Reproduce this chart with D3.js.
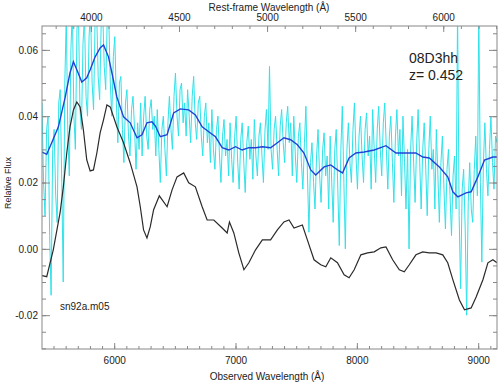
<!DOCTYPE html>
<html><head><meta charset="utf-8">
<script src="https://cdn.jsdelivr.net/npm/d3@7"></script>
<style>body{margin:0;background:#fff} text{font-family:"Liberation Sans",Arial,Helvetica,sans-serif;fill:#222}</style>
</head><body><svg id="c" width="500" height="382"></svg>
<script>
const redshift = 0.452;
const objectName = "08D3hh";
const templateName = "sn92a.m05";
const xDomain = [5405, 9155];
const yDomain = [-0.0302, 0.0672];
const xMajorTicks = [6000, 7000, 8000, 9000];
const restMajorTicks = [4000, 4500, 5000, 5500, 6000];
const yMajorTicks = [-0.02, 0.00, 0.02, 0.04, 0.06];

// template (black)
const templateSpec = [[5405,-0.0081],[5444,-0.0084],[5498,-0.0003],[5554,0.0109],[5581,0.0187],[5609,0.0289],[5636,0.0368],[5664,0.0419],[5692,0.0443],[5719,0.0428],[5746,0.0359],[5774,0.0268],[5802,0.0235],[5829,0.0238],[5857,0.0289],[5884,0.0350],[5912,0.0389],[5940,0.0434],[5967,0.0428],[6022,0.0368],[6077,0.0320],[6132,0.0259],[6188,0.0187],[6215,0.0127],[6242,0.0057],[6270,0.0033],[6297,0.0066],[6325,0.0118],[6372,0.0160],[6436,0.0127],[6477,0.0178],[6518,0.0217],[6573,0.0229],[6614,0.0199],[6669,0.0187],[6725,0.0127],[6766,0.0087],[6821,0.0087],[6890,0.0063],[6931,0.0048],[6950,0.0081],[6986,0.0048],[7027,-0.0012],[7069,-0.0063],[7110,-0.0042],[7165,-0.0003],[7221,0.0027],[7289,0.0027],[7345,0.0057],[7399,0.0081],[7441,0.0087],[7482,0.0063],[7551,0.0072],[7592,0.0027],[7647,-0.0033],[7702,-0.0048],[7744,-0.0054],[7785,-0.0027],[7840,-0.0042],[7895,-0.0078],[7936,-0.0087],[7978,-0.0063],[8033,-0.0018],[8088,-0.0012],[8143,-0.0009],[8198,0.0003],[8240,0.0006],[8295,-0.0033],[8350,-0.0063],[8391,-0.0069],[8432,-0.0048],[8487,-0.0018],[8543,-0.0009],[8597,-0.0012],[8653,-0.0012],[8708,-0.0018],[8749,-0.0042],[8791,-0.0093],[8845,-0.0154],[8887,-0.0184],[8942,-0.0178],[8983,-0.0145],[9039,-0.0093],[9080,-0.0042],[9121,-0.0033],[9155,-0.0042]];

// smoothed spectrum (blue)
const smoothSpec = [[5405,0.0292],[5444,0.0285],[5485,0.0320],[5540,0.0368],[5595,0.0455],[5636,0.0531],[5664,0.0564],[5692,0.0540],[5733,0.0503],[5774,0.0516],[5802,0.0540],[5843,0.0579],[5884,0.0606],[5912,0.0615],[5953,0.0579],[5981,0.0531],[6022,0.0458],[6077,0.0398],[6132,0.0380],[6188,0.0335],[6229,0.0344],[6270,0.0380],[6311,0.0383],[6339,0.0371],[6380,0.0338],[6436,0.0344],[6490,0.0410],[6545,0.0422],[6614,0.0419],[6669,0.0404],[6725,0.0368],[6779,0.0353],[6835,0.0338],[6890,0.0305],[6945,0.0298],[7000,0.0308],[7055,0.0298],[7110,0.0305],[7165,0.0305],[7221,0.0308],[7289,0.0305],[7345,0.0320],[7399,0.0335],[7454,0.0329],[7510,0.0314],[7564,0.0289],[7620,0.0238],[7661,0.0223],[7730,0.0247],[7785,0.0253],[7840,0.0238],[7882,0.0229],[7936,0.0274],[7992,0.0289],[8060,0.0292],[8143,0.0298],[8240,0.0311],[8322,0.0289],[8405,0.0289],[8487,0.0289],[8543,0.0277],[8597,0.0274],[8680,0.0247],[8749,0.0217],[8791,0.0172],[8832,0.0157],[8900,0.0169],[8942,0.0172],[8997,0.0217],[9052,0.0268],[9121,0.0277],[9155,0.0277]];

// observed spectrum (cyan)
const rawSpec = [[5405,0.044],[5418,0.020],[5430,0.010],[5443,0.036],[5455,0.040],[5468,0.004],[5480,-0.014],[5493,0.030],[5505,0.036],[5518,0.016],[5530,0.008],[5543,0.044],[5555,0.048],[5568,0.020],[5580,-0.010],[5593,0.050],[5605,0.070],[5618,0.034],[5630,0.022],[5643,0.060],[5655,0.072],[5668,0.040],[5680,0.030],[5693,0.066],[5705,0.072],[5718,0.042],[5730,0.036],[5743,0.062],[5755,0.070],[5768,0.046],[5780,0.040],[5793,0.064],[5805,0.072],[5818,0.050],[5830,0.042],[5843,0.070],[5855,0.072],[5868,0.052],[5880,0.045],[5893,0.068],[5905,0.072],[5918,0.055],[5930,0.048],[5943,0.070],[5955,0.070],[5968,0.050],[5980,0.040],[5993,0.058],[6005,0.064],[6018,0.044],[6030,0.032],[6043,0.050],[6055,0.052],[6068,0.036],[6080,0.026],[6093,0.044],[6105,0.048],[6118,0.034],[6130,0.028],[6143,0.042],[6155,0.046],[6168,0.036],[6180,0.024],[6193,0.038],[6205,0.030],[6218,0.044],[6230,0.028],[6243,0.040],[6255,0.046],[6268,0.034],[6280,0.030],[6293,0.042],[6305,0.045],[6318,0.036],[6330,0.040],[6343,0.028],[6355,0.042],[6368,0.030],[6380,0.020],[6393,0.036],[6405,0.040],[6418,0.030],[6430,0.022],[6443,0.038],[6455,0.046],[6468,0.036],[6480,0.030],[6493,0.046],[6505,0.053],[6518,0.040],[6530,0.034],[6543,0.048],[6555,0.050],[6568,0.038],[6580,0.044],[6593,0.034],[6605,0.048],[6618,0.040],[6630,0.032],[6643,0.046],[6655,0.052],[6668,0.038],[6680,0.033],[6693,0.044],[6705,0.046],[6718,0.034],[6730,0.028],[6743,0.040],[6755,0.044],[6768,0.032],[6780,0.038],[6793,0.026],[6805,0.042],[6818,0.030],[6830,0.024],[6843,0.036],[6855,0.040],[6868,0.028],[6880,0.020],[6893,0.034],[6905,0.039],[6918,0.028],[6930,0.033],[6943,0.022],[6955,0.038],[6968,0.027],[6980,0.020],[6993,0.034],[7005,0.040],[7018,0.026],[7030,0.018],[7043,0.033],[7055,0.038],[7068,0.026],[7080,0.017],[7093,0.032],[7105,0.037],[7118,0.027],[7130,0.033],[7143,0.021],[7155,0.039],[7168,0.028],[7180,0.022],[7193,0.034],[7205,0.038],[7218,0.028],[7230,0.020],[7243,0.036],[7255,0.042],[7268,0.030],[7280,0.055],[7293,0.030],[7305,0.024],[7318,0.036],[7330,0.040],[7343,0.030],[7355,0.022],[7368,0.037],[7380,0.042],[7393,0.032],[7405,0.026],[7418,0.038],[7430,0.043],[7443,0.032],[7455,0.038],[7468,0.022],[7480,0.040],[7493,0.028],[7505,0.020],[7518,0.034],[7530,0.038],[7543,0.026],[7555,0.018],[7568,0.032],[7580,0.043],[7593,0.022],[7605,0.005],[7618,0.026],[7630,0.032],[7643,0.020],[7655,0.012],[7668,0.028],[7680,0.036],[7693,0.022],[7705,0.014],[7718,0.030],[7730,0.035],[7743,0.022],[7755,0.028],[7768,0.012],[7780,0.034],[7793,0.020],[7805,0.008],[7818,0.030],[7830,0.036],[7843,0.018],[7855,0.001],[7868,0.030],[7880,0.043],[7893,0.020],[7905,0.000],[7918,0.030],[7930,0.038],[7943,0.026],[7955,0.020],[7968,0.036],[7980,0.044],[7993,0.028],[8005,0.018],[8018,0.034],[8030,0.040],[8043,0.028],[8055,0.020],[8068,0.036],[8080,0.041],[8093,0.028],[8105,0.034],[8118,0.018],[8130,0.042],[8143,0.030],[8155,0.020],[8168,0.036],[8180,0.043],[8193,0.030],[8205,0.022],[8218,0.038],[8230,0.044],[8243,0.030],[8255,0.018],[8268,0.034],[8280,0.040],[8293,0.026],[8305,0.014],[8318,0.034],[8330,0.042],[8343,0.028],[8355,0.036],[8368,0.016],[8380,0.040],[8393,0.026],[8405,0.012],[8418,0.030],[8430,0.000],[8443,0.030],[8455,0.040],[8468,0.026],[8480,0.014],[8493,0.032],[8505,0.042],[8518,0.026],[8530,0.012],[8543,0.030],[8555,0.038],[8568,0.024],[8580,0.010],[8593,0.030],[8605,0.040],[8618,0.024],[8630,0.030],[8643,0.012],[8655,0.036],[8668,0.022],[8680,0.008],[8693,0.026],[8705,0.034],[8718,0.018],[8730,0.006],[8743,0.024],[8755,0.030],[8768,0.016],[8780,0.004],[8793,0.022],[8805,0.028],[8818,0.012],[8830,0.072],[8843,0.010],[8855,-0.012],[8868,0.018],[8880,0.024],[8893,0.006],[8905,-0.020],[8918,0.014],[8930,0.026],[8943,0.012],[8955,0.008],[8968,0.024],[8980,0.034],[8993,0.016],[9005,0.072],[9018,0.020],[9030,-0.004],[9043,0.026],[9055,0.038],[9068,0.024],[9080,0.016],[9093,0.030],[9105,0.040],[9118,0.026],[9130,0.018],[9143,0.034],[9155,0.032]];

const svg = d3.select("#c");
const L = 42, R = 497, T = 26, B = 349;
const x = d3.scaleLinear().domain(xDomain).range([L, R]);
const xr = d3.scaleLinear().domain(xDomain.map(d => d / (1 + redshift))).range([L, R]);
const y = d3.scaleLinear().domain(yDomain).range([B, T]);

svg.append("defs").append("clipPath").attr("id","clip")
  .append("rect").attr("x",L).attr("y",T).attr("width",R-L).attr("height",B-T);

const line = d3.line().x(d => x(d[0])).y(d => y(d[1]));
const plot = svg.append("g").attr("clip-path","url(#clip)");
plot.append("path").datum(rawSpec).attr("d",line).attr("fill","none").attr("stroke","#2ee3ea").attr("stroke-width",1);
plot.append("path").datum(smoothSpec).attr("d",line).attr("fill","none").attr("stroke","#2242d6").attr("stroke-width",1.4);
plot.append("path").datum(templateSpec).attr("d",line).attr("fill","none").attr("stroke","#2a2a2a").attr("stroke-width",1.2);

const axisColor = "#888";
function style(g){
  g.select(".domain").remove();
  g.selectAll("line").attr("stroke",axisColor);
  g.selectAll("text").attr("font-size",10).attr("fill","#222");
}
const fmtY = d => d.toFixed(2);
// bottom
svg.append("g").attr("transform",`translate(0,${B})`).call(d3.axisBottom(x).tickValues(d3.range(5500,9160,100)).tickSize(-3).tickFormat("")).call(style);
svg.append("g").attr("transform",`translate(0,${B})`).call(d3.axisBottom(x).tickValues(xMajorTicks).tickSize(-6).tickSizeOuter(0).tickPadding(8).tickFormat(d3.format("d"))).call(style);
// top
svg.append("g").attr("transform",`translate(0,${T})`).call(d3.axisTop(xr).tickValues(d3.range(3800,6310,100)).tickSize(-3).tickFormat("")).call(style);
svg.append("g").attr("transform",`translate(0,${T})`).call(d3.axisTop(xr).tickValues(restMajorTicks).tickSize(-6).tickSizeOuter(0).tickPadding(5).tickFormat(d3.format("d"))).call(style);
// left
svg.append("g").attr("transform",`translate(${L},0)`).call(d3.axisLeft(y).tickValues(d3.range(-0.030,0.0671,0.005)).tickSize(-4).tickFormat("")).call(style);
svg.append("g").attr("transform",`translate(${L},0)`).call(d3.axisLeft(y).tickValues(yMajorTicks).tickSize(-8).tickSizeOuter(0).tickPadding(4).tickFormat(fmtY)).call(style);
// right
svg.append("g").attr("transform",`translate(${R},0)`).call(d3.axisRight(y).tickValues(d3.range(-0.030,0.0671,0.005)).tickSize(-4).tickFormat("")).call(style);
svg.append("g").attr("transform",`translate(${R},0)`).call(d3.axisRight(y).tickValues(yMajorTicks).tickSize(-8).tickSizeOuter(0).tickFormat("")).call(style);

svg.append("rect").attr("x",L).attr("y",T).attr("width",R-L).attr("height",B-T)
  .attr("fill","none").attr("stroke",axisColor).attr("stroke-width",1);

svg.append("text").attr("x",269).attr("y",11).attr("text-anchor","middle").attr("font-size",10).text("Rest-frame Wavelength (Å)");
svg.append("text").attr("x",267).attr("y",380).attr("text-anchor","middle").attr("font-size",10).text("Observed Wavelength (Å)");
svg.append("text").attr("transform","translate(11,183) rotate(-90)").attr("text-anchor","middle").attr("font-size",9).text("Relative Flux");
svg.append("text").attr("x",409).attr("y",63).attr("font-size",14).text(objectName);
svg.append("text").attr("x",409).attr("y",80).attr("font-size",14).text("z= " + redshift.toFixed(3));
svg.append("text").attr("x",60).attr("y",310).attr("font-size",10).text(templateName);
</script></body></html>
